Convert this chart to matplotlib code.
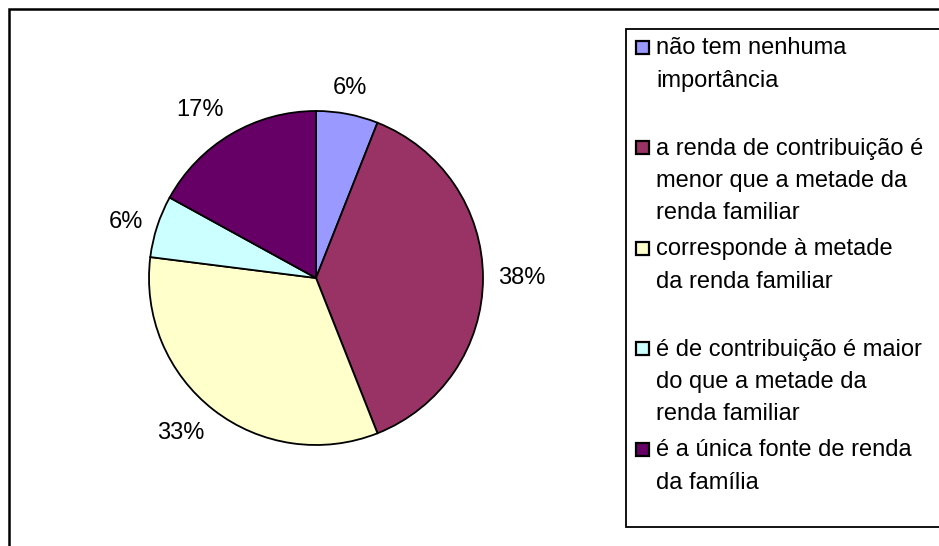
import matplotlib
matplotlib.use("Agg")
import matplotlib.pyplot as plt
from matplotlib.patches import Rectangle
import numpy as np

plt.rcParams['font.family'] = ['Liberation Sans', 'DejaVu Sans']

categories = [
    "não tem nenhuma\nimportância",
    "a renda de contribuição é\nmenor que a metade da\nrenda familiar",
    "corresponde à metade\nda renda familiar",
    "é de contribuição é maior\ndo que a metade da\nrenda familiar",
    "é a única fonte de renda\nda família",
]
values = [6, 38, 33, 6, 17]
colors = ["#9999FF", "#993366", "#FFFFCC", "#CCFFFF", "#660066"]

W, H = 939, 546
fig = plt.figure(figsize=(W / 100, H / 100), dpi=100)
ax = fig.add_axes([0, 0, 1, 1])

cx, cy, R = 316, H - 278, 167
wedges, _ = ax.pie(values, colors=colors, startangle=90, counterclock=False,
                   center=(cx, cy), radius=R, frame=True,
                   wedgeprops=dict(edgecolor='black', linewidth=1.3))
ax.set_xlim(0, W)
ax.set_ylim(0, H)
ax.axis('off')

FS = 17
total = sum(values)
for w, v in zip(wedges, values):
    mid = np.deg2rad((w.theta1 + w.theta2) / 2)
    c, s = np.cos(mid), np.sin(mid)
    x = cx + 1.09 * R * c
    y = cy + 1.09 * R * s
    ha = 'left' if c > 0.35 else ('right' if c < -0.35 else 'center')
    va = 'bottom' if s > 0.5 else ('top' if s < -0.5 else 'center')
    ax.text(x, y, f"{100 * v / total:.0f}%", ha=ha, va=va, fontsize=FS, color='black')

# figure border (top and left visible; continues past right/bottom edges)
ax.plot([W, 8.5, 8.5], [H - 8.5, H - 8.5, 0], color='black', linewidth=1.8,
        clip_on=False, solid_joinstyle='miter', solid_capstyle='butt')

# legend box (right side continues past the edge)
ax.plot([W, 626, 626, W], [H - 29, H - 29, H - 527, H - 527], color='black',
        linewidth=1.3, clip_on=False, solid_joinstyle='miter', solid_capstyle='butt')

for i, (lab, col) in enumerate(zip(categories, colors)):
    yc = H - (47 + 100.5 * i)
    ax.add_patch(Rectangle((635.5, yc - 6.5), 13, 13, facecolor=col, edgecolor='black',
                           linewidth=1.6))
    ax.text(656, yc + 9.5, lab, ha='left', va='top', fontsize=FS, color='black',
            linespacing=1.6)

fig.savefig("out.png", dpi=100, facecolor='white')
